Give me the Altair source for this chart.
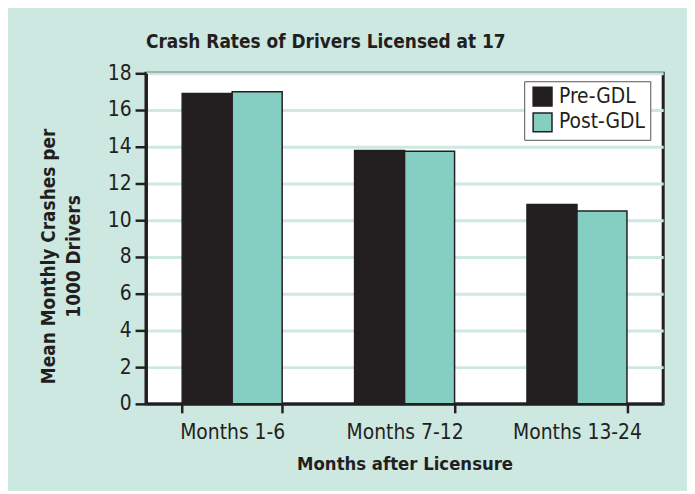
import altair as alt
import pandas as pd

categories = ["Months 1-6", "Months 7-12", "Months 13-24"]
groups = ["Pre-GDL", "Post-GDL"]
pre_values = [16.9, 13.8, 10.85]
post_values = [17.0, 13.75, 10.5]

rows = []
for c, v in zip(categories, pre_values):
    rows.append({"period": c, "group": "Pre-GDL", "value": v})
for c, v in zip(categories, post_values):
    rows.append({"period": c, "group": "Post-GDL", "value": v})
df = pd.DataFrame(rows)

FONT = "DejaVu Sans Condensed, sans-serif"
INK = "#231f20"

bars = alt.Chart(df).mark_bar(stroke=INK, strokeWidth=1.5).encode(
    x=alt.X("period:N", sort=categories,
            scale=alt.Scale(paddingInner=0.42, paddingOuter=0.21),
            axis=alt.Axis(title="Months after Licensure", labelAngle=0,
                          tickBand="extent", tickSize=9, tickWidth=2.5,
                          tickColor=INK, domainColor=INK, domainWidth=3,
                          labelFontSize=21, labelPadding=9, labelColor=INK,
                          titleFontSize=18.5, titleFontWeight="bold", titlePadding=12,
                          titleColor=INK, labelFont=FONT, titleFont=FONT)),
    xOffset=alt.XOffset("group:N", sort=groups, scale=alt.Scale(paddingInner=0)),
    y=alt.Y("value:Q", scale=alt.Scale(domain=[0, 18]),
            axis=alt.Axis(title=["Mean Monthly Crashes per", "1000 Drivers"],
                          values=list(range(0, 19, 2)), tickSize=11, tickWidth=2.5,
                          tickColor=INK, domainColor=INK, domainWidth=3,
                          labelFontSize=21, labelPadding=4, labelColor=INK,
                          titleFontSize=19, titleFontWeight="bold", titlePadding=24,
                          titleLineHeight=25, titleY=184,
                          titleColor=INK, labelFont=FONT, titleFont=FONT,
                          grid=True, gridColor="#cde8e1", gridWidth=3)),
    color=alt.Color("group:N", sort=groups,
                    scale=alt.Scale(domain=groups, range=[INK, "#84cfc1"]),
                    legend=alt.Legend(title=None, orient="none", legendX=381, legendY=8,
                                      fillColor="white", strokeColor="#555555",
                                      padding=5, symbolType="square", symbolSize=361,
                                      symbolStrokeColor=INK, symbolStrokeWidth=1.5,
                                      symbolOffset=3,
                                      labelFontSize=21, labelFont=FONT, labelColor=INK,
                                      rowPadding=1, labelOffset=6)),
)

chart = bars.properties(
    width=521, height=333,
    title=alt.TitleParams("Crash Rates of Drivers Licensed at 17", anchor="start",
                          frame="group", font=FONT, fontSize=19, fontWeight="bold",
                          color=INK, offset=10),
    background="#cde8e1",
    padding={"left": 139, "top": 64, "right": 24, "bottom": 86},
    autosize=alt.AutoSizeParams(type="none"),
).configure_view(fill="white", stroke=INK, strokeWidth=3)

chart.save("out.html", embed_options={"renderer": "svg", "actions": False})
